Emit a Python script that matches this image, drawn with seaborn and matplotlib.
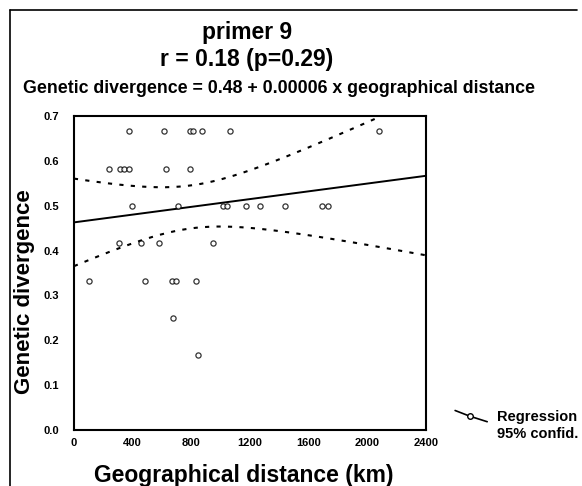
import numpy as np
import seaborn as sns
import matplotlib.pyplot as plt
from matplotlib.lines import Line2D
from matplotlib.legend_handler import HandlerBase

# geographical distance (km) and genetic divergence
dist = [375, 616, 791, 813, 875, 1064, 2080,
        236, 314, 343, 373, 627, 793,
        393, 709, 1014, 1041, 1173, 1266, 1439, 1693, 1730,
        307, 459, 580, 948,
        102, 482, 670, 693, 834,
        675, 845]
div = [0.667] * 7 + [0.583] * 6 + [0.5] * 9 + [0.417] * 4 + [0.333] * 5 + [0.25, 0.167]

x_ticks = [0, 400, 800, 1200, 1600, 2000, 2400]
y_ticks = [0.0, 0.1, 0.2, 0.3, 0.4, 0.5, 0.6, 0.7]


class SlopedHandler(HandlerBase):
    # small kinked line with a hollow circle, as in the original legend
    def create_artists(self, legend, orig_handle, xdescent, ydescent, width, height, fontsize, trans):
        ln = Line2D([0, width * 0.45, width], [height * 1.0, height * 0.45, -height * 0.1],
                    color='black', lw=1.2, transform=trans)
        mk = Line2D([width * 0.45], [height * 0.45], marker='o', markersize=4, lw=0,
                    markerfacecolor='white', markeredgecolor='black', transform=trans)
        return [ln, mk]


sns.set_style('white')
plt.rcParams['font.family'] = ['Liberation Sans', 'DejaVu Sans']
plt.rcParams['font.weight'] = 'bold'
for k in ['text.color', 'axes.labelcolor', 'xtick.color', 'ytick.color']:
    plt.rcParams[k] = 'black'

fig = plt.figure(figsize=(5.82, 4.86), dpi=100)
ax = fig.add_axes([0.127, 0.1152, 0.6048, 0.646])
ax.set_xlim(0, 2400)
ax.set_ylim(0, 0.7)

sns.regplot(x=dist, y=div, ax=ax, ci=None, truncate=False,
            scatter_kws=dict(s=14, facecolors='white', edgecolors='black', linewidths=0.9, zorder=3),
            line_kws=dict(color='black', lw=1.4))

# 95% confidence band of the fitted line
x = np.array(dist, float)
y = np.array(div, float)
n = len(x)
b, a = np.polyfit(x, y, 1)
resid = y - (a + b * x)
s = np.sqrt((resid ** 2).sum() / (n - 2))
sxx = ((x - x.mean()) ** 2).sum()
xg = np.linspace(0, 2400, 200)
se = s * np.sqrt(1 / n + (xg - x.mean()) ** 2 / sxx)
t = 2.04
sns.lineplot(x=xg, y=a + b * xg + t * se, ax=ax, color='black', lw=1.5, linestyle=(0, (2, 3.5)))
sns.lineplot(x=xg, y=a + b * xg - t * se, ax=ax, color='black', lw=1.5, linestyle=(0, (2, 3.5)))

ax.set_xticks(x_ticks)
ax.set_yticks(y_ticks)
ax.set_yticklabels([f'{v:.1f}' for v in y_ticks])
ax.tick_params(labelsize=8, length=3, direction='in')
ax.tick_params(axis='x', pad=6)
ax.tick_params(axis='y', pad=11)
for sp in ax.spines.values():
    sp.set_color('black')
    sp.set_linewidth(1.5)

ax.set_xlabel('Geographical distance (km)', fontsize=16.5, fontweight='bold')
ax.set_ylabel('Genetic divergence', fontsize=16, fontweight='bold')
ax.xaxis.label.set_va('center')
ax.yaxis.label.set_va('center')
ax.xaxis.set_label_coords(0.483, -0.146)
ax.yaxis.set_label_coords(-0.139, 0.44)

fig.text(0.424, 0.934, 'primer 9', ha='center', va='center', fontsize=16.5, fontweight='bold')
fig.text(0.423, 0.877, 'r = 0.18 (p=0.29)', ha='center', va='center', fontsize=16.5, fontweight='bold')
fig.text(0.479, 0.817, 'Genetic divergence = 0.48 + 0.00006 x geographical distance',
         ha='center', va='center', fontsize=12.8, fontweight='bold')

h1 = Line2D([0], [0], color='black')
h2 = Line2D([], [], lw=0)
fig.legend([h1, h2], ['Regression', '95% confid.'], loc='upper left',
           bbox_to_anchor=(0.782, 0.157), frameon=False,
           handlelength=2.2, handletextpad=0.7, borderpad=0, borderaxespad=0,
           labelspacing=0.2, prop=dict(weight='bold', size=10.5),
           handler_map={h1: SlopedHandler()})

# figure frame on the left and top
fig.add_artist(Line2D([0.017, 0.017], [0.0, 0.979], color='black', lw=1.2, transform=fig.transFigure))
fig.add_artist(Line2D([0.017, 0.991], [0.979, 0.979], color='black', lw=1.2, transform=fig.transFigure))

fig.savefig('out.png', dpi=100, facecolor='white')
